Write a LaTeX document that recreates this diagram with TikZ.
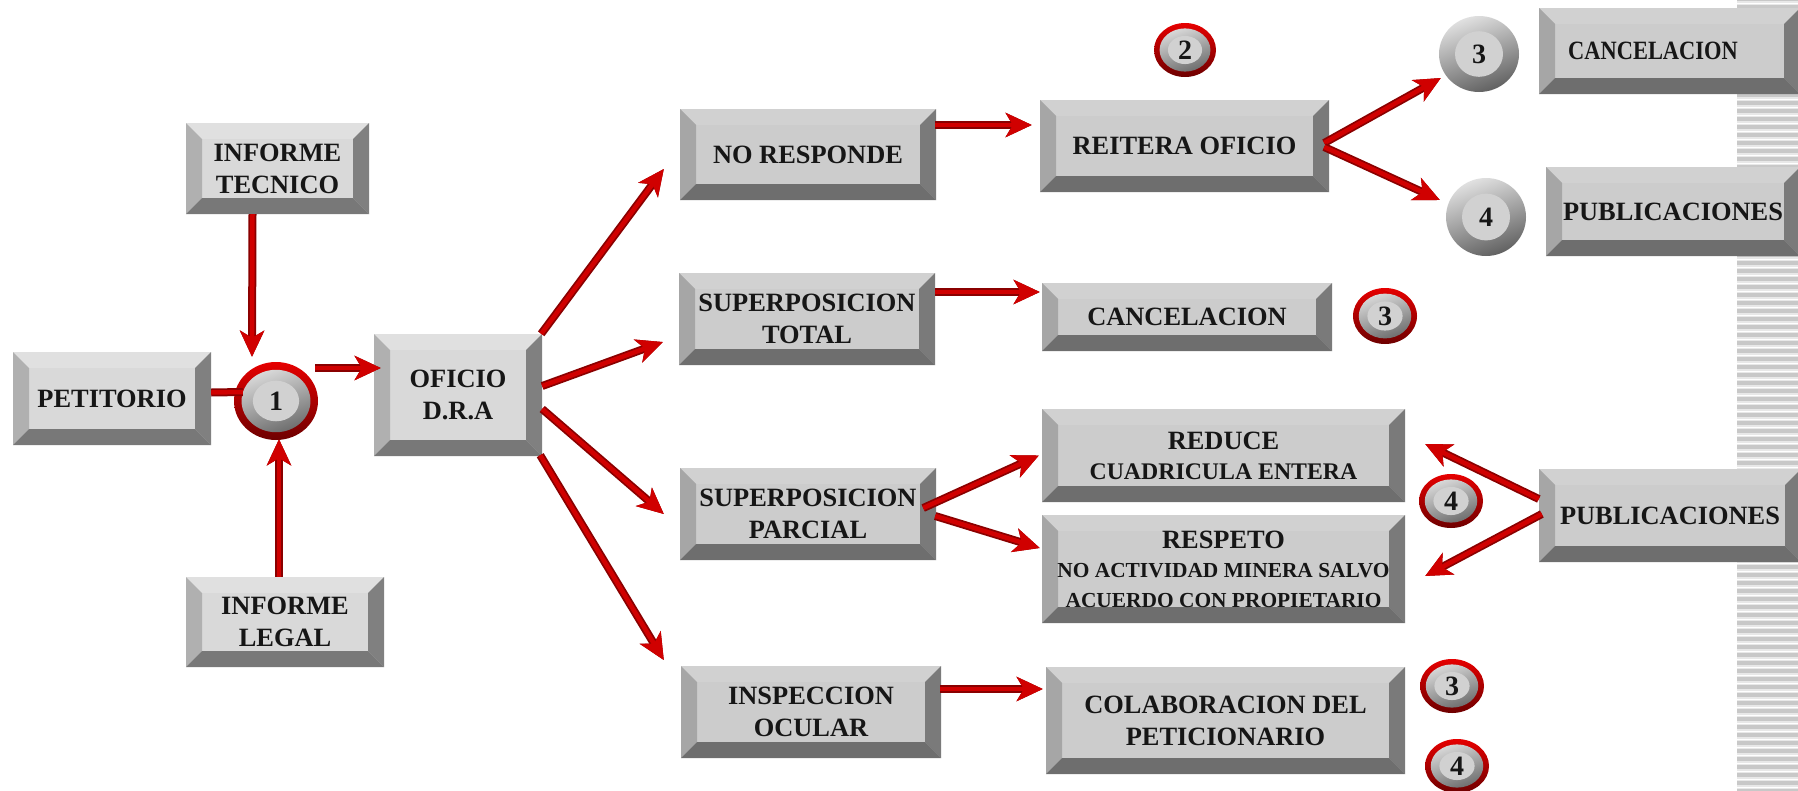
\documentclass[tikz,border=0pt]{standalone}
\usepackage{fontspec}
\setmainfont{Liberation Serif}
\usepackage{tikz}
\usetikzlibrary{arrows.meta,calc,shapes.geometric}

\definecolor{ringred}{HTML}{E60000}
\definecolor{ringdark}{HTML}{6E0000}
\definecolor{shaftred}{HTML}{D00000}
\definecolor{shaftdark}{HTML}{8A0000}
\definecolor{labelgray}{HTML}{161616}
\definecolor{stripegray}{HTML}{C8C8C8}
\definecolor{stripelight}{HTML}{E8E8E8}

\newcommand{\bevelfaces}[5]{%
  \fill[#5] (path picture bounding box.south west) rectangle (path picture bounding box.north east);
  \fill[#1] (path picture bounding box.north west) -- (path picture bounding box.north east)
    -- ++(-16pt,-16pt) -- ($(path picture bounding box.north west)+(16pt,-16pt)$) -- cycle;
  \fill[#2] (path picture bounding box.north west) -- (path picture bounding box.south west)
    -- ++(16pt,16pt) -- ($(path picture bounding box.north west)+(16pt,-16pt)$) -- cycle;
  \fill[#3] (path picture bounding box.north east) -- (path picture bounding box.south east)
    -- ++(-16pt,16pt) -- ($(path picture bounding box.north east)+(-16pt,-16pt)$) -- cycle;
  \fill[#4] (path picture bounding box.south west) -- (path picture bounding box.south east)
    -- ++(-16pt,16pt) -- ($(path picture bounding box.south west)+(16pt,16pt)$) -- cycle;
}

\tikzset{
  bevellight/.style 2 args={rectangle, inner sep=0pt, minimum width=#1, minimum height=#2,
    align=center, text=labelgray, font=\fontsize{26.4}{32}\selectfont\bfseries,
    execute at begin node={\vspace*{2.5pt}},
    path picture={\bevelfaces{black!12}{black!31}{black!50}{black!53}{black!15}}},
  bevelbox/.style 2 args={rectangle, inner sep=0pt, minimum width=#1, minimum height=#2,
    align=center, text=labelgray, font=\fontsize{26.4}{32}\selectfont\bfseries,
    execute at begin node={\vspace*{2.5pt}},
    path picture={\bevelfaces{black!18}{black!35}{black!52}{black!57}{black!20}}},
  redball/.style 2 args={ellipse, inner sep=0pt, minimum width=2*#1, minimum height=2*#2,
    top color=ringred, bottom color=ringdark, text=labelgray,
    font=\fontsize{28}{30}\selectfont\bfseries,
    path picture={
      \shade[top color=black!10, bottom color=black!62, shading angle=20]
        (path picture bounding box.center) ellipse ({0.82*#1} and {0.8*#2});
      \fill[black!18] (path picture bounding box.center) ellipse ({0.55*#1} and {0.52*#2});
    }},
  plainball/.style 2 args={ellipse, inner sep=0pt, minimum width=2*#1, minimum height=2*#2,
    top color=black!12, bottom color=black!62, shading angle=20, text=labelgray,
    font=\fontsize{28}{30}\selectfont\bfseries,
    path picture={
      \fill[black!18] (path picture bounding box.center) ellipse ({0.6*#1} and {0.6*#2});
    }},
  redarrow/.style={line width=4.5pt, draw=shaftred, -{Stealth[length=26pt,width=24pt,inset=7pt]},
    preaction={draw=shaftdark, line width=8pt, -{Stealth[length=26pt,width=24pt,inset=7pt]}}},
  redline/.style={line width=4.5pt, draw=shaftred,
    preaction={draw=shaftdark, line width=8pt}}
}

\begin{document}
\begin{tikzpicture}[x=1pt, y=-1pt]
  \useasboundingbox (0,0) rectangle (1798,790);

  \foreach \stripey in {-3,5,...,789} {
    \fill[stripelight] (1737,\stripey-1) rectangle (1798,\stripey+6);
    \fill[stripegray] (1737,\stripey) rectangle (1798,\stripey+4);
  }

  \node[bevellight={198pt}{93pt}] at (112,398.5) (petitorio) {PETITORIO};
  \node[bevellight={183pt}{91pt}] at (277.5,168.5) (tecnico) {INFORME\\TECNICO};
  \node[bevellight={198pt}{90pt}] at (285,622) (legal) {INFORME\\LEGAL};
  \node[bevellight={168pt}{122pt}] at (458,395) (oficio) {OFICIO\\D.R.A};
  \node[redball={42pt}{39pt}] at (276,401) (ball1) {1};

  \node[bevelbox={256pt}{91pt}] at (808,154.5) (noresponde) {NO RESPONDE};
  \node[bevelbox={256pt}{92pt}] at (807,319) (total) {SUPERPOSICION\\TOTAL};
  \node[bevelbox={256pt}{92pt}] at (808,514) (parcial) {SUPERPOSICION\\PARCIAL};
  \node[bevelbox={260pt}{92pt}] at (811,712) (inspeccion) {INSPECCION\\OCULAR};

  \node[bevelbox={289pt}{92pt}] at (1184.5,146) (reitera) {REITERA OFICIO};
  \node[bevelbox={290pt}{68pt}] at (1187,317) (cancelmid) {CANCELACION};
  \node[bevelbox={363pt}{93pt}] at (1223.5,455.5) (reduce) {REDUCE\\[-2pt]{\fontsize{23.8}{26}\selectfont CUADRICULA ENTERA}};
  \node[bevelbox={363pt}{108pt}] at (1223.5,569) (respeto) {RESPETO\\[-3pt]{\fontsize{21.4}{24}\selectfont NO ACTIVIDAD MINERA SALVO}\\[-2pt]{\fontsize{21.4}{24}\selectfont ACUERDO CON PROPIETARIO}};
  \node[bevelbox={359pt}{107pt}] at (1225.5,720.5) (colaboracion) {COLABORACION DEL\\PETICIONARIO};

  \node[bevelbox={261pt}{86pt}] at (1669.5,51) (canceltop) {\scalebox{0.85}[1]{CANCELACION}\hspace*{33pt}};
  \node[bevelbox={254pt}{89pt}] at (1673,211.5) (pubtop) {PUBLICACIONES};
  \node[bevelbox={262pt}{93pt}] at (1670,515.5) (pubmid) {PUBLICACIONES};

  \node[redball={31pt}{27pt}] at (1185,50) (ball2) {2};
  \node[plainball={40pt}{38pt}] at (1479,54) (plain3) {3};
  \node[plainball={40pt}{39pt}] at (1486,217) (plain4) {4};
  \node[redball={32pt}{28pt}] at (1385,316) (ball3mid) {3};
  \node[redball={32pt}{27pt}] at (1451,501) (ball4mid) {4};
  \node[redball={32pt}{27pt}] at (1452,686) (ball3low) {3};
  \node[redball={32pt}{27pt}] at (1457,766) (ball4low) {4};

  \draw[redarrow] ($(tecnico.south)+(-25,0)$) -- ($(ball1.north)+(-24,-5)$);
  \draw[redarrow] ($(legal.north)+(-6,0)$) -- ($(ball1.south)+(3,-1)$);
  \draw[redline] ($(petitorio.east)+(0,-6)$) -- ($(ball1.west)+(9,-9)$);
  \draw[redarrow] ($(ball1.east)+(-3,-33)$) -- ($(oficio.west)+(7,-27)$);

  \draw[redarrow] ($(oficio.north east)+(-1,0)$) -- ($(noresponde.west)+(-16,14.5)$);
  \draw[redarrow] ($(oficio.east)+(0,-9)$) -- ($(total.west)+(-16,23)$);
  \draw[redarrow] ($(oficio.east)+(0,14)$) -- ($(parcial.west)+(-16,0)$);
  \draw[redarrow] ($(oficio.south east)+(-2,-1)$) -- ($(inspeccion.west)+(-17,-52)$);

  \draw[redarrow] ($(noresponde.east)+(-1,-29.5)$) -- ($(reitera.west)+(-8,-21)$);
  \draw[redarrow] ($(total.east)+(0,-27)$) -- ($(cancelmid.west)+(-2,-25)$);
  \draw[redarrow] ($(parcial.east)+(-13,-6)$) -- ($(reduce.west)+(-3,0)$);
  \draw[redarrow] ($(parcial.east)+(-1,2)$) -- ($(respeto.west)+(-2,-21)$);
  \draw[redarrow] ($(inspeccion.east)+(-1,-23)$) -- ($(colaboracion.west)+(-3,-31.5)$);

  \draw[redarrow] ($(reitera.east)+(-5,-3)$) -- ($(plain3.west)+(2,24)$);
  \draw[redarrow] ($(reitera.east)+(-5,1)$) -- ($(plain4.west)+(-6,-17)$);
  \draw[redarrow] ($(pubmid.west)+(0,-16.5)$) -- ($(reduce.east)+(20,-11.5)$);
  \draw[redarrow] ($(pubmid.west)+(3,-1.5)$) -- ($(respeto.east)+(20,7)$);
\end{tikzpicture}
\end{document}
